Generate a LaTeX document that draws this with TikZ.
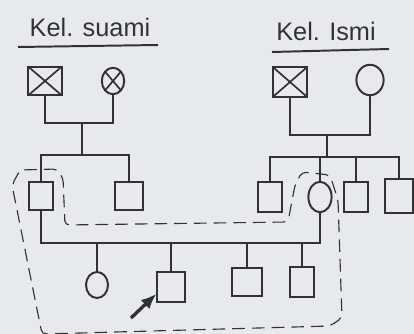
\documentclass[tikz,border=0pt]{standalone}
\usepackage{fontspec}
\setmainfont{Liberation Sans}
\usetikzlibrary{shapes.geometric,arrows.meta}

\definecolor{paper}{RGB}{231,234,237}
\definecolor{ink}{RGB}{50,50,54}

\tikzset{
  male/.style={draw=ink, line width=1.4pt, minimum width=0.68cm, minimum height=0.7cm, inner sep=0pt},
  female/.style={draw=ink, line width=1.4pt, ellipse, minimum width=0.56cm, minimum height=0.66cm, inner sep=0pt},
  dead/.style={path picture={\draw[ink, line width=1.2pt]
      (path picture bounding box.south west) -- (path picture bounding box.north east)
      (path picture bounding box.north west) -- (path picture bounding box.south east);}},
  link/.style={draw=ink, line width=1.4pt},
  house/.style={draw=ink, line width=0.8pt, dash pattern=on 9pt off 5pt, rounded corners=3pt},
  title/.style={text=ink, font=\fontsize{18}{20}\selectfont, inner sep=0pt},
}

\begin{document}
\begin{tikzpicture}[x=0.025cm, y=-0.025cm]
  \fill[paper] (0,0) rectangle (414,334);
  \useasboundingbox (0,0) rectangle (414,334);

  % judul keluarga
  \node[title] (tsuami) at (90,27) {Kel. suami};
  \node[title] (tistri) at (326,31) {Kel. Ismi};
  \coordinate (ua) at (18,47);  \coordinate (ub) at (158,45);
  \coordinate (uc) at (272,52); \coordinate (ud) at (389,49);
  \draw[link] (ua) -- (ub);
  \draw[link] (uc) -- (ud);

  % generasi 1
  \node[male, dead, minimum width=0.84cm, minimum height=0.72cm] (gfs) at (45,81) {};
  \node[female, dead] (gms) at (113,81) {};
  \node[male, dead, minimum width=0.86cm, minimum height=0.75cm] (gfi) at (290,82) {};
  \node[female, minimum width=0.68cm, minimum height=0.76cm] (gmi) at (370,80) {};
  \coordinate (ms) at (82,123);
  \coordinate (mi) at (327,135);
  \draw[link] (gfs) |- (ms) -| (gms);
  \draw[link] (gfi) |- (mi) -| (gmi);

  % generasi 2
  \node[male, minimum width=0.62cm] (suami) at (41,196) {};
  \node[male] (sdr1) at (129,196) {};
  \node[male, minimum width=0.62cm, minimum height=0.75cm] (sdr2) at (270,197) {};
  \node[female, minimum width=0.58cm, minimum height=0.76cm] (istri) at (320,197) {};
  \node[male, minimum width=0.62cm, minimum height=0.74cm] (sdr3) at (356,197) {};
  \node[male, minimum width=0.72cm, minimum height=0.86cm] (sdr4) at (399,196) {};
  \coordinate (ss) at (82,155);
  \coordinate (si) at (327,157);
  \draw[link] (ms) -- (ss);
  \draw[link] (suami) |- (ss) -| (sdr1);
  \draw[link] (mi) -- (si);
  \draw[link] (sdr2) |- (si) -| (sdr4);
  \draw[link] (istri) -- (istri |- si);
  \draw[link] (sdr3) -- (sdr3 |- si);

  % pernikahan dan anak
  \coordinate (nikah) at (180,243);
  \draw[link] (suami) |- (nikah) -| (istri);
  \node[female, minimum width=0.55cm, minimum height=0.65cm] (ank1) at (97,285) {};
  \node[male, minimum height=0.75cm] (ank2) at (171,287) {};
  \node[male, minimum width=0.74cm, minimum height=0.72cm] (ank3) at (247,282) {};
  \node[male, minimum width=0.62cm, minimum height=0.75cm] (ank4) at (302,282) {};
  \foreach \a in {ank1,ank2,ank3,ank4}
    \draw[link] (\a) -- (\a |- nikah);

  % penunjuk
  \coordinate (ptr) at (131,318);
  \draw[ink, line width=2.4pt, -{Latex[length=11pt,width=9pt]}] (ptr) -- (ank2.205);

  % batas rumah tangga
  \draw[house] (20,170) -- (57,169) -- (63,178) -- (65,225) -- (288,222)
    -- (295,185) -- (302,172) -- (330,175) -- (338,200) -- (342,318)
    -- (330,326) -- (80,333) -- (42,334) -- (12,185) -- cycle;
\end{tikzpicture}
\end{document}
